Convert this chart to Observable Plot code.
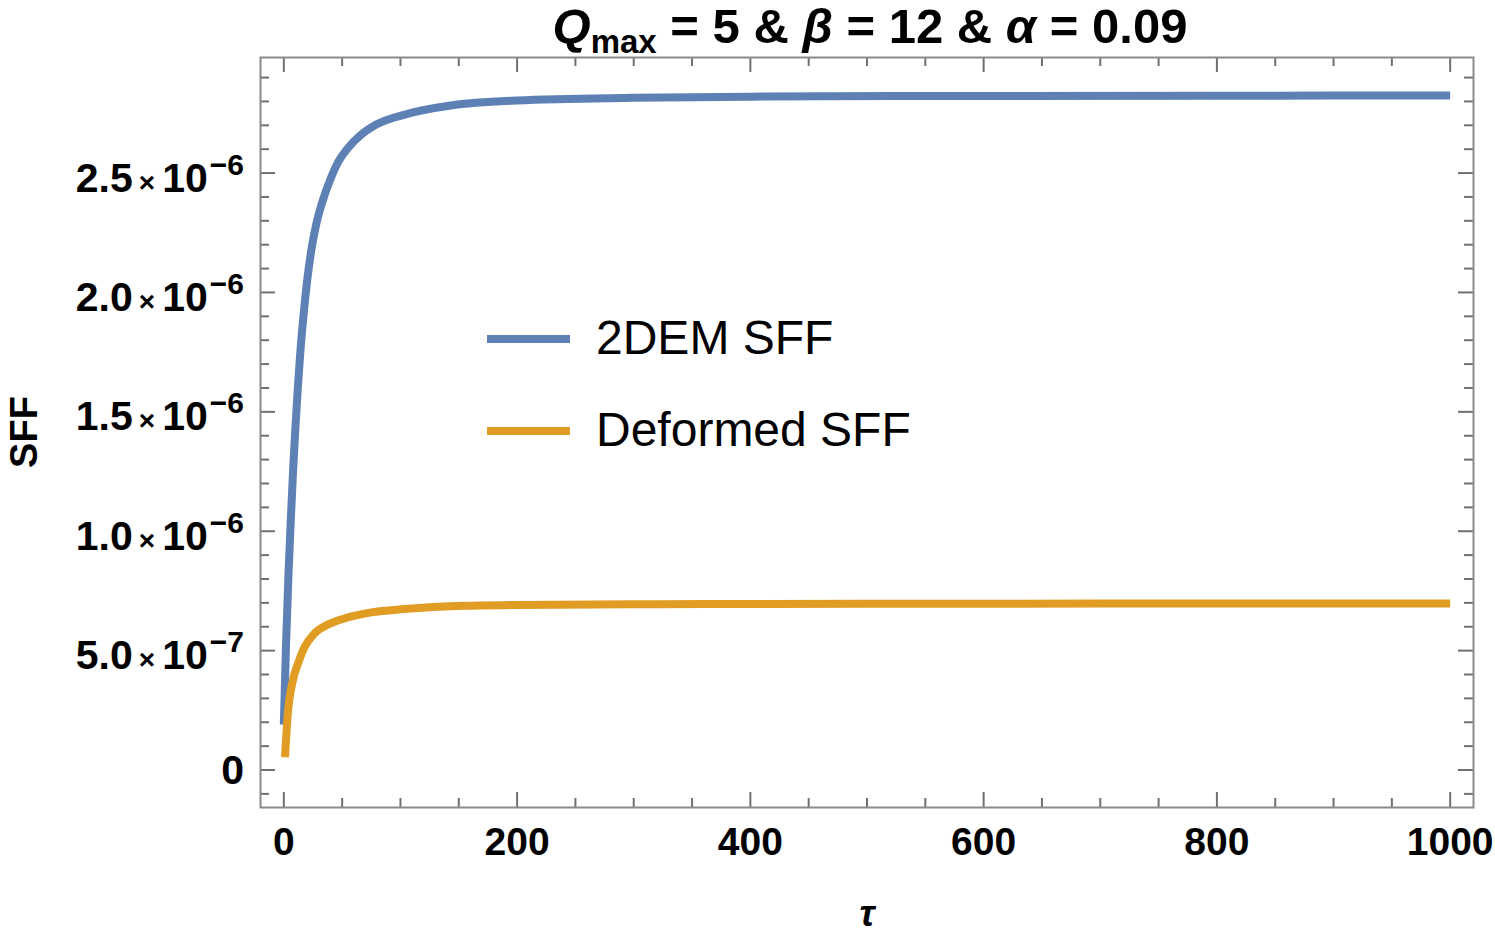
<!DOCTYPE html>
<html>
<head>
<meta charset="utf-8">
<script src="https://cdn.jsdelivr.net/npm/d3@7"></script>
<script src="https://cdn.jsdelivr.net/npm/@observablehq/plot@0.6"></script>
<style>
  html, body { margin: 0; padding: 0; background: #fff; }
  #chart { width: 1495px; height: 938px; }
</style>
</head>
<body>
<div id="chart"></div>
<script>
// ---- data ----
const series2DEM = "2DEM SFF";
const seriesDeformed = "Deformed SFF";

const tau2DEM = [0, 1, 2, 4, 6, 8, 10, 12, 14, 17, 20, 24, 28, 33.4, 40, 47, 55, 65, 80, 106, 143, 200, 300, 400, 600, 800, 1000];
const sff2DEM = [0.19e-6, 0.37e-6, 0.54e-6, 0.82e-6, 1.05e-6, 1.26e-6, 1.44e-6, 1.60e-6, 1.74e-6, 1.91e-6, 2.05e-6, 2.19e-6, 2.29e-6, 2.385e-6, 2.475e-6, 2.55e-6, 2.605e-6, 2.655e-6, 2.705e-6, 2.748e-6, 2.783e-6, 2.804e-6, 2.815e-6, 2.82e-6, 2.823e-6, 2.824e-6, 2.825e-6];

const tauDeformed = [1, 3.4, 7.7, 12, 17.7, 26, 39, 55, 75, 103, 155, 200, 300, 500, 700, 1000];
const sffDeformed = [0.053e-6, 0.235e-6, 0.374e-6, 0.444e-6, 0.514e-6, 0.570e-6, 0.612e-6, 0.639e-6, 0.660e-6, 0.674e-6, 0.688e-6, 0.691e-6, 0.694e-6, 0.696e-6, 0.697e-6, 0.697e-6];

const xMajorTicks = [0, 200, 400, 600, 800, 1000];
const xMinorTicks = [50, 100, 150, 250, 300, 350, 450, 500, 550, 650, 700, 750, 850, 900, 950];
const yMajorTicks = [0, 0.5e-6, 1.0e-6, 1.5e-6, 2.0e-6, 2.5e-6];
const yMajorMantissa = ["0", "5.0", "1.0", "1.5", "2.0", "2.5"];
const yMajorExponent = ["", "\u22127", "\u22126", "\u22126", "\u22126", "\u22126"];
const yMinorTicks = [-0.1e-6, 0.1e-6, 0.2e-6, 0.3e-6, 0.4e-6, 0.6e-6, 0.7e-6, 0.8e-6, 0.9e-6,
  1.1e-6, 1.2e-6, 1.3e-6, 1.4e-6, 1.6e-6, 1.7e-6, 1.8e-6, 1.9e-6,
  2.1e-6, 2.2e-6, 2.3e-6, 2.4e-6, 2.6e-6, 2.7e-6, 2.8e-6, 2.9e-6];

const xLabel = "τ";
const yLabel = "SFF";

// ---- build ----
const data2DEM = tau2DEM.map((t, i) => ({t, v: sff2DEM[i]}));
const dataDeformed = tauDeformed.map((t, i) => ({t, v: sffDeformed[i]}));

const W = 1495, H = 938;
const mL = 260, mR = 22, mT = 57, mB = 131;
const plotH = H - mT - mB, plotW = W - mL - mR;
const colBlue = "#5E81B5", colOrange = "#E19C24";
const tickCol = "#707070", frameCol = "#8a8a8a";
const majorLen = 15, minorLen = 9;
const FONT = "'Liberation Sans', Arial, Helvetica, sans-serif";

const plot = Plot.plot({
  width: W, height: H,
  marginLeft: mL, marginRight: mR, marginTop: mT, marginBottom: mB,
  style: {fontFamily: FONT, background: "#fff", color: "#000"},
  x: {domain: [-20, 1020], axis: null},
  y: {domain: [-0.157e-6, 2.984e-6], axis: null},
  marks: [
    Plot.tickX(xMajorTicks, {x: d => d, insetTop: plotH - majorLen, stroke: tickCol, strokeWidth: 2}),
    Plot.tickX(xMinorTicks, {x: d => d, insetTop: plotH - minorLen, stroke: tickCol, strokeWidth: 2}),
    Plot.tickX(xMajorTicks, {x: d => d, insetBottom: plotH - majorLen, stroke: tickCol, strokeWidth: 2}),
    Plot.tickX(xMinorTicks, {x: d => d, insetBottom: plotH - minorLen, stroke: tickCol, strokeWidth: 2}),
    Plot.tickY(yMajorTicks, {y: d => d, insetRight: plotW - majorLen, stroke: tickCol, strokeWidth: 2}),
    Plot.tickY(yMinorTicks, {y: d => d, insetRight: plotW - minorLen, stroke: tickCol, strokeWidth: 2}),
    Plot.tickY(yMajorTicks, {y: d => d, insetLeft: plotW - majorLen, stroke: tickCol, strokeWidth: 2}),
    Plot.tickY(yMinorTicks, {y: d => d, insetLeft: plotW - minorLen, stroke: tickCol, strokeWidth: 2}),
    Plot.frame({stroke: frameCol, strokeWidth: 2}),
    Plot.line(data2DEM, {x: "t", y: "v", stroke: colBlue, strokeWidth: 8, curve: "monotone-x", strokeLinecap: "butt"}),
    Plot.line(dataDeformed, {x: "t", y: "v", stroke: colOrange, strokeWidth: 8, curve: "monotone-x", strokeLinecap: "butt"}),
    Plot.text(xMajorTicks, {x: d => d, text: d => String(d), frameAnchor: "bottom", dy: 47, fontSize: 39, fontWeight: "bold", fill: "#000"}),
    Plot.text([xLabel], {text: d => d, frameAnchor: "bottom", dy: 118, fontSize: 37, fontWeight: "bold", fontStyle: "italic", fill: "#000"})
  ]
});

document.getElementById("chart").appendChild(plot);

const svg = d3.select(plot);
const yScale = plot.scale("y");

// y tick labels with superscript exponents
yMajorTicks.forEach((v, i) => {
  const yy = yScale.apply(v);
  const t = svg.append("text")
    .attr("x", 244)
    .attr("y", yy + (yMajorExponent[i] ? 19 : 14))
    .attr("text-anchor", "end")
    .attr("font-family", FONT)
    .attr("font-weight", "bold")
    .attr("font-size", 41)
    .attr("fill", "#000");
  t.append("tspan").text(yMajorMantissa[i]);
  if (yMajorExponent[i]) {
    t.append("tspan").attr("font-size", 28).attr("dx", 6).text("×");
    t.append("tspan").attr("dx", 7).text("10");
    t.append("tspan").attr("font-size", 30).attr("dx", 2).attr("dy", -17).text(yMajorExponent[i]);
  }
});

// y axis label
svg.append("text")
  .attr("transform", `translate(37, ${(mT + H - mB) / 2}) rotate(-90)`)
  .attr("text-anchor", "middle")
  .attr("font-family", FONT)
  .attr("font-weight", "bold")
  .attr("font-size", 38)
  .attr("fill", "#000")
  .text(yLabel);

// title
const title = svg.append("text")
  .attr("x", 870).attr("y", 43)
  .attr("text-anchor", "middle")
  .attr("font-family", FONT)
  .attr("font-weight", "bold")
  .attr("font-size", 49)
  .attr("fill", "#000");
title.append("tspan").attr("font-style", "italic").text("Q");
title.append("tspan").attr("font-size", 33).attr("dy", 10).text("max");
title.append("tspan").attr("dy", -10).text(" = 5 & ");
title.append("tspan").attr("font-style", "italic").text("β");
title.append("tspan").text(" = 12 & ");
title.append("tspan").attr("font-style", "italic").text("α");
title.append("tspan").text(" = 0.09");

// legend
const legendItems = [
  {label: series2DEM, color: colBlue, y: 339},
  {label: seriesDeformed, color: colOrange, y: 431}
];
legendItems.forEach(it => {
  svg.append("line")
    .attr("x1", 487).attr("x2", 570)
    .attr("y1", it.y).attr("y2", it.y)
    .attr("stroke", it.color).attr("stroke-width", 8);
  svg.append("text")
    .attr("x", 596).attr("y", it.y + 15)
    .attr("text-anchor", "start")
    .attr("font-family", FONT)
    .attr("font-size", 48)
    .attr("fill", "#000")
    .text(it.label);
});
</script>
</body>
</html>
